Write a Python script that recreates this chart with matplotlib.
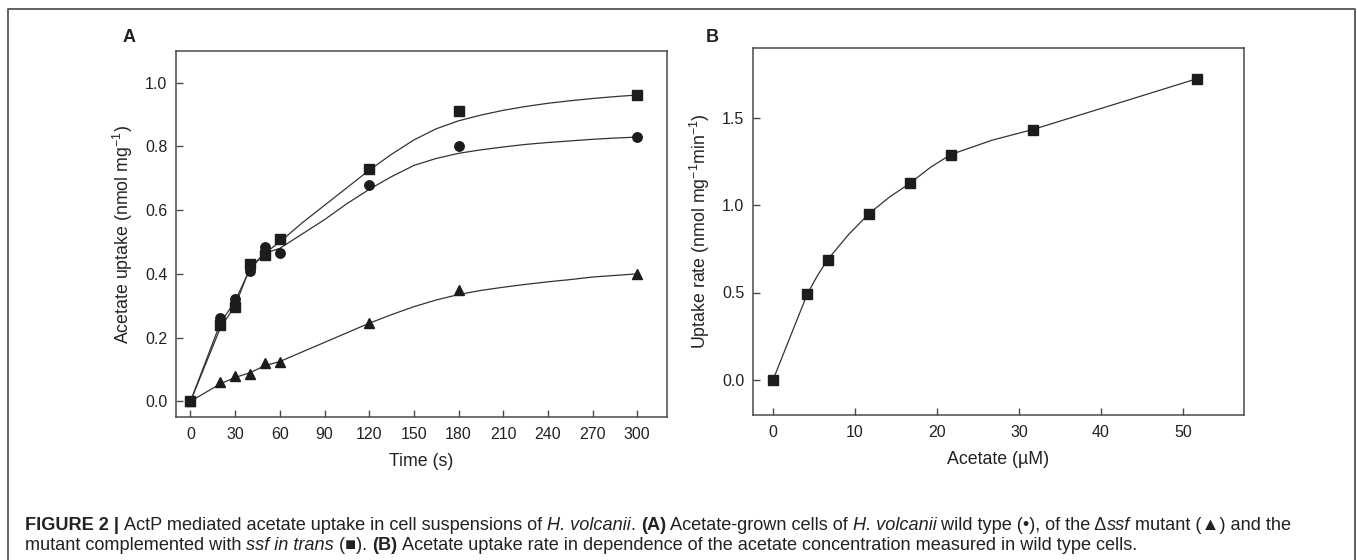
import matplotlib
matplotlib.use("Agg")
import matplotlib.pyplot as plt
from matplotlib.lines import Line2D

plt.rcParams['font.family'] = ['Liberation Sans', 'DejaVu Sans']
plt.rcParams['mathtext.fontset'] = 'custom'
plt.rcParams['mathtext.rm'] = 'Liberation Sans'
plt.rcParams['mathtext.it'] = 'Liberation Sans:italic'

# Panel A data (time course)
time_s = [0, 20, 30, 40, 50, 60, 120, 180, 300]
wt_circles = [0.0, 0.26, 0.32, 0.41, 0.485, 0.465, 0.68, 0.80, 0.83]
dssf_triangles = [0.0, 0.06, 0.08, 0.085, 0.12, 0.125, 0.245, 0.35, 0.40]
compl_squares = [0.0, 0.24, 0.295, 0.43, 0.46, 0.51, 0.73, 0.91, 0.96]

# fitted curves
fit_t = [0, 20, 30, 40, 50, 60, 75, 90, 105, 120, 135, 150, 165, 180,
         195, 210, 225, 240, 255, 270, 285, 300]
fit_circles = [0.0, 0.245, 0.315, 0.415, 0.465, 0.48, 0.525, 0.57, 0.62, 0.665, 0.705,
               0.74, 0.762, 0.778, 0.789, 0.798, 0.806, 0.812, 0.817, 0.822, 0.826, 0.829]
fit_triangles = [0.0, 0.055, 0.075, 0.09, 0.112, 0.125, 0.155, 0.185, 0.215, 0.245, 0.272,
                 0.297, 0.318, 0.335, 0.348, 0.358, 0.367, 0.375, 0.382, 0.39, 0.395, 0.40]
fit_squares = [0.0, 0.23, 0.30, 0.42, 0.465, 0.50, 0.56, 0.615, 0.67, 0.725, 0.775,
               0.82, 0.855, 0.88, 0.898, 0.913, 0.925, 0.935, 0.943, 0.95, 0.956, 0.961]

# Panel B data (rate vs concentration)
acetate_uM = [0, 4.17, 6.67, 11.67, 16.67, 21.67, 31.67, 51.67]
rate = [0.0, 0.49, 0.688, 0.949, 1.123, 1.288, 1.431, 1.721]
fit_b_x = [0, 2, 4.17, 5.4, 6.67, 9.2, 11.67, 14.2, 16.67, 19.2, 21.67, 26.7, 31.67, 41.7, 51.67]
fit_b_y = [0.0, 0.235, 0.49, 0.595, 0.688, 0.83, 0.949, 1.045, 1.123, 1.215, 1.288,
           1.37, 1.431, 1.576, 1.721]

xticks_a = [0, 30, 60, 90, 120, 150, 180, 210, 240, 270, 300]
yticks_a = [0.0, 0.2, 0.4, 0.6, 0.8, 1.0]
xticks_b = [0, 10, 20, 30, 40, 50]
yticks_b = [0.0, 0.5, 1.0, 1.5]

W, H = 1357, 560
fig = plt.figure(figsize=(W / 100, H / 100), dpi=100)

mk = '#1c1c1c'
ln = '#333333'
spine_c = '#4a4a4a'
txt = '#222222'


def style_axes(ax):
    for s in ax.spines.values():
        s.set_color(spine_c)
        s.set_linewidth(1.1)
    ax.tick_params(direction='in', length=5, width=1.0, color=spine_c,
                   labelsize=11.5, labelcolor=txt)
    ax.tick_params(axis='x', pad=7)
    ax.tick_params(axis='y', pad=6)


axA = fig.add_axes([175.6 / W, 1 - 417.3 / H, (667 - 175.6) / W, (417.3 - 50.7) / H])
axA.plot(fit_t, fit_squares, color=ln, lw=0.9, zorder=2)
axA.plot(fit_t, fit_circles, color=ln, lw=0.9, zorder=2)
axA.plot(fit_t, fit_triangles, color=ln, lw=0.9, zorder=2)
axA.plot(time_s, compl_squares, 's', color=mk, ms=6.5, zorder=3)
axA.plot(time_s, wt_circles, 'o', color=mk, ms=6.8, zorder=3)
axA.plot(time_s, dssf_triangles, '^', color=mk, ms=7.5, zorder=3)
axA.set_xlim(-10, 320)
axA.set_ylim(-0.05, 1.1)
axA.set_xticks(xticks_a)
axA.set_yticks(yticks_a)
axA.set_yticklabels([f'{v:.1f}' for v in yticks_a])
axA.set_xlabel('Time (s)', fontsize=12.8, color=txt, labelpad=8)
axA.set_ylabel('Acetate uptake (nmol mg$^{-1}$)', fontsize=12.8, color=txt, labelpad=7)
style_axes(axA)

axB = fig.add_axes([752.5 / W, 1 - 415 / H, (1244.4 - 752.5) / W, (415 - 47.5) / H])
axB.plot(fit_b_x, fit_b_y, '-', color=ln, lw=0.9, zorder=2)
axB.plot(acetate_uM, rate, 's', color=mk, ms=6.5, zorder=3)
axB.set_xlim(-2.5, 57.5)
axB.set_ylim(-0.2, 1.9)
axB.set_xticks(xticks_b)
axB.set_yticks(yticks_b)
axB.set_yticklabels([f'{v:.1f}' for v in yticks_b])
axB.set_xlabel('Acetate (µM)', fontsize=12.8, color=txt, labelpad=8)
axB.set_ylabel('Uptake rate (nmol mg$^{-1}$min$^{-1}$)', fontsize=12.8, color=txt, labelpad=7)
style_axes(axB)

fig.text(129 / W, 1 - 37 / H, 'A', fontsize=13, fontweight='bold', color=txt,
         ha='center', va='center')
fig.text(712 / W, 1 - 37 / H, 'B', fontsize=13, fontweight='bold', color=txt,
         ha='center', va='center')

# frame around the figure panel
fx = [8 / W, 8 / W, 1355 / W, 1355 / W]
fy = [0, 1 - 8.5 / H, 1 - 8.5 / H, 0]
fig.add_artist(Line2D(fx, fy, transform=fig.transFigure, color='#555555', lw=1.3))

# caption with mixed styles
renderer = fig.canvas.get_renderer()


def run_width(s, weight, style, size):
    t = fig.text(0, 0, s + '|', fontsize=size, fontweight=weight, fontstyle=style)
    w1 = t.get_window_extent(renderer).width
    t.set_text('|')
    w2 = t.get_window_extent(renderer).width
    t.remove()
    return w1 - w2


def draw_line(x_px, y_px, runs, size):
    x = x_px
    for s, kind in runs:
        weight = 'bold' if kind == 'b' else 'normal'
        style = 'italic' if kind == 'i' else 'normal'
        fig.text(x / W, 1 - y_px / H, s, fontsize=size, fontweight=weight,
                 fontstyle=style, color=txt, va='center', ha='left')
        x += run_width(s, weight, style, size)


cap1 = [('FIGURE 2 | ', 'b'), ('ActP mediated acetate uptake in cell suspensions of ', 'n'),
        ('H. volcanii', 'i'), ('. ', 'n'), ('(A)', 'b'), (' Acetate-grown cells of ', 'n'),
        ('H. volcanii', 'i'), (' wild type (•), of the Δ', 'n'), ('ssf', 'i'),
        (' mutant (▲) and the', 'n')]
cap2 = [('mutant complemented with ', 'n'), ('ssf in trans', 'i'), (' (■). ', 'n'),
        ('(B)', 'b'),
        (' Acetate uptake rate in dependence of the acetate concentration measured in wild type cells.', 'n')]
draw_line(25, 526, cap1, 13.1)
draw_line(25, 546, cap2, 13.1)

fig.savefig('out.png', dpi=100)
